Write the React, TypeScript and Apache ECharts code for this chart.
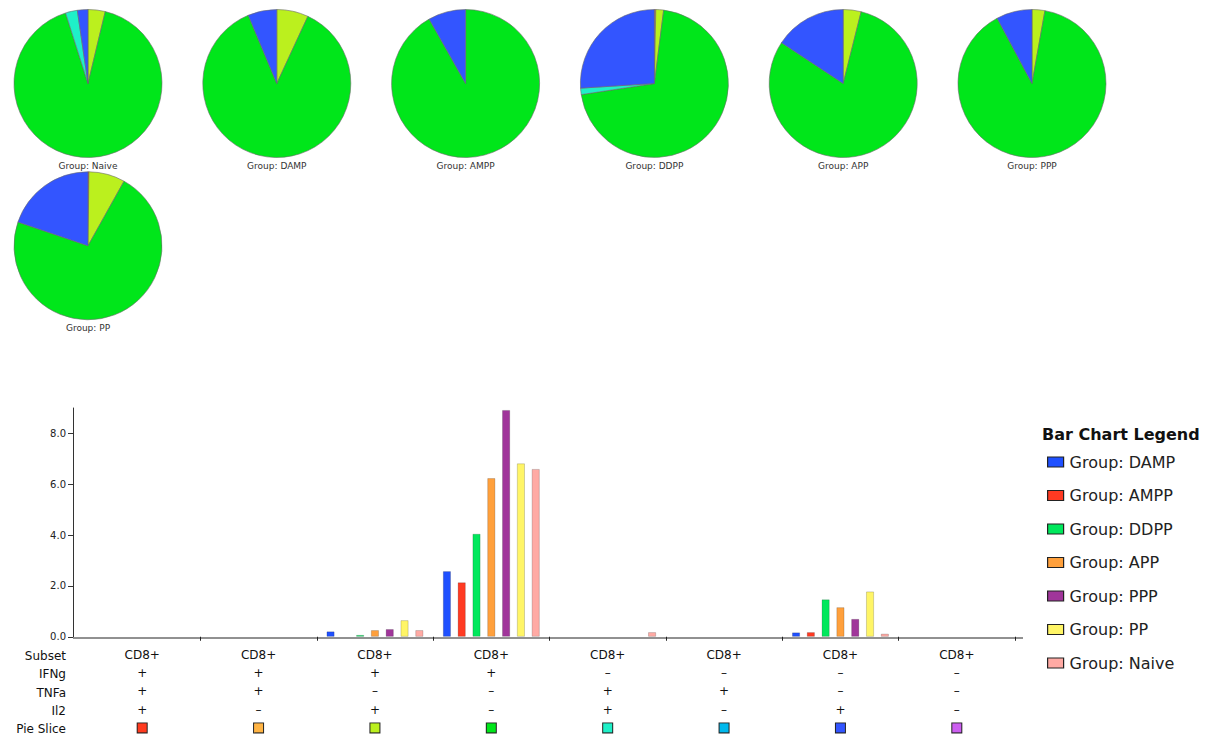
import React, { useEffect, useRef } from "react";
import * as echarts from "echarts";

const FONT = "'DejaVu Sans', Verdana, sans-serif";

// Bar chart groups (legend order) and colours
const groups = ["DAMP", "AMPP", "DDPP", "APP", "PPP", "PP", "Naive"];
const barColors = ["#1f50ff", "#ff3a22", "#00e85c", "#ffa03c", "#a0359a", "#fff566", "#ffaaa4"];

// Subsets (x categories) and their marker rows
const subsetNames = ["CD8+", "CD8+", "CD8+", "CD8+", "CD8+", "CD8+", "CD8+", "CD8+"];
const ifng = ["+", "+", "+", "+", "–", "–", "–", "–"];
const tnfa = ["+", "+", "–", "–", "+", "+", "–", "–"];
const il2 = ["+", "–", "+", "–", "+", "–", "+", "–"];
const sliceColors = ["#ff3b1f", "#ffb444", "#bbf01e", "#00e61a", "#1ff0c8", "#00b8ec", "#3355ff", "#cc5ff0"];

// Bar values per group, one per subset
const dampVals = [0, 0, 0.21, 2.58, 0, 0, 0.17, 0];
const amppVals = [0, 0, 0, 2.14, 0, 0, 0.18, 0];
const ddppVals = [0, 0, 0.07, 4.05, 0, 0, 1.47, 0];
const appVals = [0, 0, 0.26, 6.24, 0, 0, 1.16, 0];
const pppVals = [0, 0, 0.3, 8.92, 0, 0, 0.7, 0];
const ppVals = [0, 0, 0.65, 6.82, 0, 0, 1.78, 0];
const naiveVals = [0, 0, 0.26, 6.6, 0.18, 0, 0.12, 0];
const barValues = [dampVals, amppVals, ddppVals, appVals, pppVals, ppVals, naiveVals];

// Y axis tick labels
const yTicks = [0, 2, 4, 6, 8];

// Pie charts (slice shares per subset, in subset order)
const pieGroups = ["Naive", "DAMP", "AMPP", "DDPP", "APP", "PPP", "PP"];
const pieNaive = [0, 0, 3.75, 91.35, 2.6, 0, 2.3, 0];
const pieDamp = [0, 0, 6.9, 86.8, 0, 0, 6.3, 0];
const pieAmpp = [0, 0, 0, 91.8, 0, 0, 8.2, 0];
const pieDdpp = [0.3, 0, 1.7, 70.6, 1.4, 0, 26, 0];
const pieApp = [0, 0, 3.9, 80.4, 0, 0, 15.7, 0];
const pieP3 = [0, 0, 2.8, 89.4, 0, 0, 7.8, 0];
const piePp = [0.2, 0, 7.9, 72.1, 0, 0, 19.8, 0];
const pieValues = [pieNaive, pieDamp, pieAmpp, pieDdpp, pieApp, pieP3, piePp];

export default function App() {
  const ref = useRef<HTMLDivElement>(null);
  useEffect(() => {
    const chart = echarts.init(ref.current!, null, { renderer: "svg" });

    const gridLeft = 84;
    const gridRight = 1015;
    const gridTop = 408;
    const gridBottom = 638;
    const catKeys = subsetNames.map((s, i) => `${s} ${ifng[i]}${tnfa[i]}${il2[i]}`);

    const rich: Record<string, any> = {};
    sliceColors.forEach((c, i) => {
      rich["s" + i] = {
        width: 9,
        height: 9,
        backgroundColor: c,
        borderColor: "#222",
        borderWidth: 1,
        lineHeight: 18.25,
      };
    });

    const barSeries = groups.map((g, gi) => ({
      type: "bar",
      name: "Group: " + g,
      data: barValues[gi].map((v) => (v === 0 ? null : v)),
      barWidth: 8,
      barGap: "85%",
      itemStyle: { color: barColors[gi], borderColor: "rgba(0,0,0,0.22)", borderWidth: 0.8 },
      emphasis: { disabled: true },
      silent: true,
    }));

    const pieR = 74;
    const pieSeries = pieGroups.map((g, pi) => {
      const col = pi % 6;
      const row = Math.floor(pi / 6);
      const cx = 88 + col * 188.8;
      const cy = 83.5 + row * 162.3;
      return {
        type: "pie",
        name: "Group: " + g,
        center: [cx, cy],
        radius: pieR,
        startAngle: 90,
        clockwise: true,
        avoidLabelOverlap: false,
        label: { show: false },
        labelLine: { show: false },
        silent: true,
        emphasis: { disabled: true },
        itemStyle: { borderColor: "#6a6a6a", borderWidth: 0.6 },
        data: pieValues[pi]
          .map((v, k) => ({ value: v, name: catKeys[k], itemStyle: { color: sliceColors[k] } }))
          .filter((d) => d.value > 0),
      };
    });

    const pieLabels = pieGroups.map((g, pi) => {
      const col = pi % 6;
      const row = Math.floor(pi / 6);
      const cx = 88 + col * 188.8;
      const cy = 83.5 + row * 162.3;
      return {
        type: "text",
        x: cx,
        y: cy + pieR + 8,
        silent: true,
        style: {
          text: "Group: " + g,
          fill: "#333",
          font: `9px ${FONT}`,
          align: "center",
          verticalAlign: "middle",
        },
      };
    });

    const option: any = {
      animation: false,
      backgroundColor: "#ffffff",
      grid: {
        left: gridLeft,
        top: gridTop,
        width: gridRight - gridLeft,
        height: gridBottom - gridTop,
        containLabel: false,
      },
      legend: {
        orient: "vertical",
        left: 1042,
        top: 447,
        itemWidth: 16,
        itemHeight: 10,
        itemGap: 13.5,
        icon: "rect",
        selectedMode: false,
        data: groups.map((g) => "Group: " + g),
        itemStyle: { borderColor: "#222", borderWidth: 1.2 },
        textStyle: { fontFamily: FONT, fontSize: 16, color: "#222", lineHeight: 20, padding: [0, 0, 0, 1] },
      },
      xAxis: {
        type: "category",
        data: catKeys,
        boundaryGap: true,
        axisLine: { show: false },
        axisTick: {
          show: true,
          length: 4,
          interval: (index: number) => index !== 0,
          lineStyle: { color: "#222", width: 1 },
        },
        axisLabel: {
          interval: 0,
          margin: 9,
          fontFamily: FONT,
          fontSize: 12,
          lineHeight: 18.25,
          color: "#111",
          formatter: (_v: string, i: number) =>
            `${subsetNames[i]}\n${ifng[i]}\n${tnfa[i]}\n${il2[i]}\n{s${i}|}`,
          rich,
        },
        splitLine: { show: false },
      },
      yAxis: {
        type: "value",
        min: 0,
        max: 9,
        interval: 2,
        offset: 11,
        axisLine: { show: true, lineStyle: { color: "#333", width: 1 } },
        axisTick: { show: true, length: 5, customValues: yTicks, lineStyle: { color: "#333" } },
        axisLabel: {
          customValues: yTicks,
          formatter: (v: number) => v.toFixed(1),
          fontFamily: FONT,
          fontSize: 10,
          color: "#222",
          margin: 7,
        },
        splitLine: { show: false },
      },
      series: [...barSeries, ...pieSeries],
      graphic: [
        {
          type: "line",
          silent: true,
          shape: { x1: 73, y1: gridBottom, x2: 1023, y2: gridBottom },
          style: { stroke: "#222", lineWidth: 1 },
        },
        {
          type: "text",
          x: 66,
          y: 647,
          silent: true,
          style: {
            text: "Subset\nIFNg\nTNFa\nIl2\nPie Slice",
            font: `12px ${FONT}`,
            fill: "#111",
            align: "right",
            verticalAlign: "top",
            lineHeight: 18.25,
          },
        },
        {
          type: "text",
          x: 1042,
          y: 434,
          silent: true,
          style: {
            text: "Bar Chart Legend",
            font: `bold 16px ${FONT}`,
            fill: "#111",
            align: "left",
            verticalAlign: "middle",
          },
        },
        ...pieLabels,
      ],
    };

    chart.setOption(option);
    return () => chart.dispose();
  }, []);

  return (
    <div
      ref={ref}
      style={{ position: "fixed", left: 0, top: 0, width: 1215, height: 737, background: "#fff" }}
    />
  );
}
